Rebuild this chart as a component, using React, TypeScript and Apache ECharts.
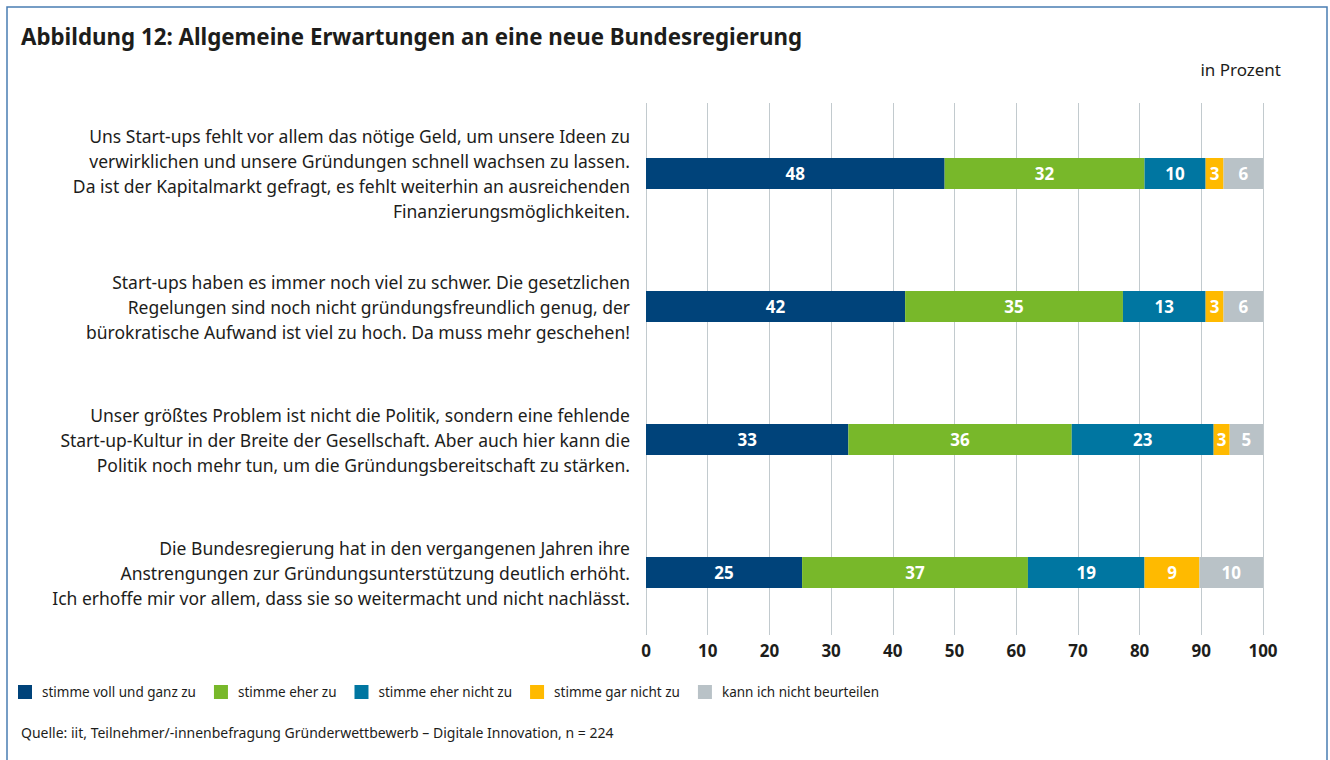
import React, { useEffect, useRef } from "react";
import * as echarts from "echarts";

const categories = [
  "Uns Start-ups fehlt vor allem das nötige Geld, um unsere Ideen zu\nverwirklichen und unsere Gründungen schnell wachsen zu lassen.\nDa ist der Kapitalmarkt gefragt, es fehlt weiterhin an ausreichenden\nFinanzierungsmöglichkeiten.",
  "Start-ups haben es immer noch viel zu schwer. Die gesetzlichen\nRegelungen sind noch nicht gründungsfreundlich genug, der\nbürokratische Aufwand ist viel zu hoch. Da muss mehr geschehen!",
  "Unser größtes Problem ist nicht die Politik, sondern eine fehlende\nStart-up-Kultur in der Breite der Gesellschaft. Aber auch hier kann die\nPolitik noch mehr tun, um die Gründungsbereitschaft zu stärken.",
  "Die Bundesregierung hat in den vergangenen Jahren ihre\nAnstrengungen zur Gründungsunterstützung deutlich erhöht.\nIch erhoffe mir vor allem, dass sie so weitermacht und nicht nachlässt.",
];

const seriesNames = [
  "stimme voll und ganz zu",
  "stimme eher zu",
  "stimme eher nicht zu",
  "stimme gar nicht zu",
  "kann ich nicht beurteilen",
];

const vollUndGanz = [48.4, 42.0, 32.8, 25.3];
const eherZu = [32.4, 35.3, 36.2, 36.6];
const eherNicht = [9.9, 13.4, 23.0, 18.9];
const garNicht = [2.9, 2.9, 2.6, 8.9];
const nichtBeurteilen = [6.4, 6.4, 5.4, 10.3];

const xTicks = { min: 0, max: 100, interval: 10 };

const colors = ["#00437a", "#78b82a", "#0076a1", "#ffba00", "#b9c2c7"];

const title = "Abbildung 12: Allgemeine Erwartungen an eine neue Bundesregierung";
const unitNote = "in Prozent";
const sourceNote =
  "Quelle: iit, Teilnehmer/-innenbefragung Gründerwettbewerb – Digitale Innovation, n = 224";

const FONT = "Noto Sans";
const TEXT = "#1d1d1b";

export default function App() {
  const ref = useRef<HTMLDivElement>(null);

  useEffect(() => {
    if (!ref.current) return;
    const chart = echarts.init(ref.current, null, { renderer: "svg" });
    const values = [vollUndGanz, eherZu, eherNicht, garNicht, nichtBeurteilen];

    chart.setOption({
      animation: false,
      backgroundColor: "#ffffff",
      textStyle: { fontFamily: FONT },
      title: {
        text: title,
        left: 16,
        top: 20,
        textStyle: { fontFamily: FONT, fontSize: 22.3, fontWeight: "bold", color: TEXT },
      },
      legend: {
        left: 13,
        top: 680,
        itemWidth: 14,
        itemHeight: 14,
        itemGap: 18,
        icon: "rect",
        data: seriesNames,
        textStyle: {
          fontFamily: FONT,
          fontSize: 13.5,
          color: TEXT,
          padding: [0, 0, 0, 5],
        },
      },
      graphic: [
        {
          type: "rect",
          shape: { x: 7, y: 7, width: 1320, height: 800 },
          style: { fill: "none", stroke: "#4a7db3", lineWidth: 1.5 },
          silent: true,
        },
        {
          type: "text",
          right: 49,
          top: 61,
          style: { text: unitNote, fontFamily: FONT, fontSize: 17, fill: TEXT },
        },
        {
          type: "text",
          left: 21,
          top: 725,
          style: { text: sourceNote, fontFamily: FONT, fontSize: 14, fill: TEXT },
        },
      ],
      grid: [
        { left: 646, width: 617, top: 107, height: 532 },
        { left: 646, width: 617, top: 103, height: 532 },
      ],
      xAxis: [
        { type: "value", gridIndex: 0, ...xTicks, show: false },
        {
          type: "value",
          gridIndex: 1,
          ...xTicks,
          axisLine: { show: false },
          axisTick: { show: false },
          splitLine: { show: true, lineStyle: { color: "#c2cace", width: 1 } },
          axisLabel: {
            margin: 7,
            fontFamily: FONT,
            fontSize: 17,
            fontWeight: "bold",
            color: TEXT,
          },
        },
      ],
      yAxis: [
        {
          type: "category",
          gridIndex: 0,
          inverse: true,
          data: categories,
          axisLine: { show: false },
          axisTick: { show: false },
          axisLabel: {
            margin: 16,
            fontFamily: FONT,
            fontSize: 17.5,
            lineHeight: 25,
            color: TEXT,
            align: "right",
          },
        },
        { type: "value", gridIndex: 1, show: false, min: 0, max: 1 },
      ],
      series: seriesNames.map((name, i) => ({
        name,
        type: "bar",
        stack: "total",
        xAxisIndex: 0,
        yAxisIndex: 0,
        barWidth: 31,
        itemStyle: { color: colors[i] },
        label: {
          show: true,
          position: "inside",
          color: "#ffffff",
          fontFamily: FONT,
          fontSize: 17,
          fontWeight: "bold",
          formatter: (p: any) => String(Math.round(p.value)),
        },
        data: values[i],
      })),
    });

    return () => chart.dispose();
  }, []);

  return (
    <div
      ref={ref}
      style={{ position: "absolute", left: 0, top: 0, width: 1330, height: 760 }}
    />
  );
}
